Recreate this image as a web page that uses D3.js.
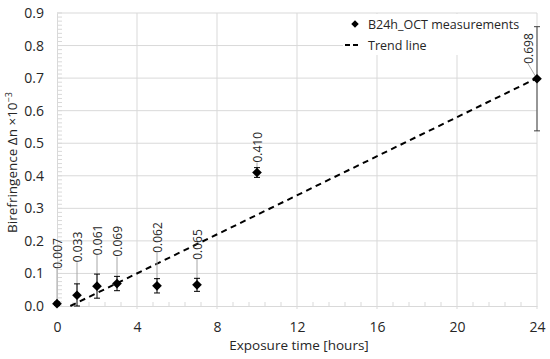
<!DOCTYPE html>
<html>
<head>
<meta charset="utf-8">
<script src="https://cdn.jsdelivr.net/npm/d3@7"></script>
<style>
  html, body { margin: 0; padding: 0; background: #fff; }
  svg text { font-family: "Open Sans", "Noto Sans", sans-serif; fill: #262626; }
</style>
</head>
<body>
<div id="chart"></div>
<script>
// measurements
const hours = [0, 1, 2, 3, 5, 7, 10, 24];
const biref = [0.007, 0.033, 0.061, 0.069, 0.062, 0.065, 0.410, 0.698];
const errs  = [0.005, 0.035, 0.037, 0.022, 0.022, 0.020, 0.015, 0.160];
const labels = ["0.007", "0.033", "0.061", "0.069", "0.062", "0.065", "0.410", "0.698"];

// trend line y = a*x + b
const trendSlope = 0.0300;
const trendIntercept = -0.020;

const xTicks = [0, 4, 8, 12, 16, 20, 24];
const yTicks = [0, 0.1, 0.2, 0.3, 0.4, 0.5, 0.6, 0.7, 0.8, 0.9];

// label placement (px above the point, px sideways)
const labelLift = [35, 33, 31, 27, 33, 25, 10, 15];
const labelShift = [0, 0, 0, 0, 0, 0, 0, -9];

const W = 550, H = 359;
const margin = { top: 13, right: 13, bottom: 53, left: 57 },
      width = W - margin.left - margin.right,
      height = H - margin.top - margin.bottom;

const svg = d3.select("#chart").append("svg")
  .attr("width", W).attr("height", H);

const g = svg.append("g").attr("transform", `translate(${margin.left},${margin.top})`);

const x = d3.scaleLinear().domain([0, 24]).range([0, width]);
const y = d3.scaleLinear().domain([0, 0.9]).range([height, 0]);

const gridColor = "#d9d9d9";

// gridlines
g.append("g").selectAll("line").data(yTicks.slice(1)).join("line")
  .attr("x1", 0).attr("x2", width)
  .attr("y1", d => y(d)).attr("y2", d => y(d))
  .attr("stroke", gridColor).attr("stroke-width", 1);
g.append("g").selectAll("line").data(xTicks.slice(1)).join("line")
  .attr("x1", d => x(d)).attr("x2", d => x(d))
  .attr("y1", 0).attr("y2", height + 3)
  .attr("stroke", gridColor).attr("stroke-width", 1);

// minor ticks
const xMinor = d3.range(0, 24.01, 0.8).filter(v => Math.abs(v / 4 - Math.round(v / 4)) > 0.01);
g.append("g").selectAll("line").data(xMinor).join("line")
  .attr("x1", d => x(d)).attr("x2", d => x(d))
  .attr("y1", height - 4).attr("y2", height)
  .attr("stroke", gridColor);
const yMinor = d3.range(0, 0.901, 0.0125);
g.append("g").selectAll("line").data(yMinor).join("line")
  .attr("x1", 0).attr("x2", 5)
  .attr("y1", d => y(d)).attr("y2", d => y(d))
  .attr("stroke", gridColor);

// axes
const xAxis = g.append("g")
  .attr("transform", `translate(0,${height})`)
  .call(d3.axisBottom(x).tickValues(xTicks).tickSize(0).tickPadding(16));
const yAxis = g.append("g")
  .call(d3.axisLeft(y).tickValues(yTicks).tickFormat(d3.format(".1f")).tickSize(0).tickPadding(13));
[xAxis, yAxis].forEach(a => {
  a.select(".domain").attr("stroke", gridColor);
  a.selectAll("text").style("font-size", "14px").attr("fill", "#262626");
});

// legend background
g.append("rect")
  .attr("x", 286).attr("y", 1)
  .attr("width", width - 287).attr("height", 41)
  .attr("fill", "#fff");

// trend line
const x0 = -trendIntercept / trendSlope;
const line = d3.line().x(d => x(d[0])).y(d => y(d[1]));
g.append("path")
  .datum([[x0, 0], [24, trendSlope * 24 + trendIntercept]])
  .attr("d", line)
  .attr("fill", "none")
  .attr("stroke", "#000")
  .attr("stroke-width", 2)
  .attr("stroke-dasharray", "6,4.5");

const pts = hours.map((h, i) => ({ h, v: biref[i], e: errs[i], lab: labels[i], i }));

// label leader lines
g.append("g").selectAll("line").data(pts).join("line")
  .attr("x1", d => x(d.h))
  .attr("y1", d => y(d.v))
  .attr("x2", d => x(d.h) + labelShift[d.i])
  .attr("y2", d => y(d.v) - labelLift[d.i])
  .attr("stroke", "#a6a6a6").attr("stroke-width", 1);

// error bars
const eb = g.append("g").selectAll("g").data(pts).join("g")
  .attr("stroke", d => d.i === 7 ? "#404040" : "#000")
  .attr("stroke-width", 1);
eb.append("line")
  .attr("x1", d => x(d.h)).attr("x2", d => x(d.h))
  .attr("y1", d => y(d.v + d.e)).attr("y2", d => y(Math.max(0, d.v - d.e)));
eb.append("line")
  .attr("x1", d => x(d.h) - 3).attr("x2", d => x(d.h) + 3)
  .attr("y1", d => y(d.v + d.e)).attr("y2", d => y(d.v + d.e));
eb.append("line")
  .attr("x1", d => x(d.h) - 3).attr("x2", d => x(d.h) + 3)
  .attr("y1", d => y(Math.max(0, d.v - d.e))).attr("y2", d => y(Math.max(0, d.v - d.e)));

// markers
const diamond = d3.symbol().type(d3.symbolDiamond2).size(60);
g.append("g").selectAll("path").data(pts).join("path")
  .attr("transform", d => `translate(${x(d.h)},${y(d.v)})`)
  .attr("d", diamond)
  .attr("fill", "#000");

// data labels (vertical)
g.append("g").selectAll("text").data(pts).join("text")
  .attr("transform", d => `translate(${x(d.h) + labelShift[d.i] + 4.5},${y(d.v) - labelLift[d.i]}) rotate(-90)`)
  .attr("text-anchor", "start")
  .style("font-size", "12px")
  .text(d => d.lab);

// legend
const lg = g.append("g").attr("transform", `translate(298,0)`);
lg.append("path")
  .attr("transform", "translate(0,11)")
  .attr("d", d3.symbol().type(d3.symbolDiamond2).size(36))
  .attr("fill", "#000");
lg.append("text").attr("x", 13).attr("y", 15.5).style("font-size", "12.5px").text("B24h_OCT measurements");
lg.append("line")
  .attr("x1", -10).attr("x2", 6).attr("y1", 32).attr("y2", 32)
  .attr("stroke", "#000").attr("stroke-width", 2).attr("stroke-dasharray", "5,3");
lg.append("text").attr("x", 13).attr("y", 36.5).style("font-size", "12.5px").text("Trend line");

// axis titles
svg.append("text")
  .attr("x", margin.left + width / 2 + 2).attr("y", 350)
  .attr("text-anchor", "middle")
  .style("font-size", "13.5px")
  .text("Exposure time [hours]");

const yt = svg.append("text")
  .attr("transform", `translate(17,${margin.top + height / 2 + 3}) rotate(-90)`)
  .attr("text-anchor", "middle")
  .style("font-size", "13.5px");
yt.append("tspan").text("Birefringence \u0394n \u00d710");
yt.append("tspan").attr("dy", -5).style("font-size", "9px").text("\u22123");
</script>
</body>
</html>
